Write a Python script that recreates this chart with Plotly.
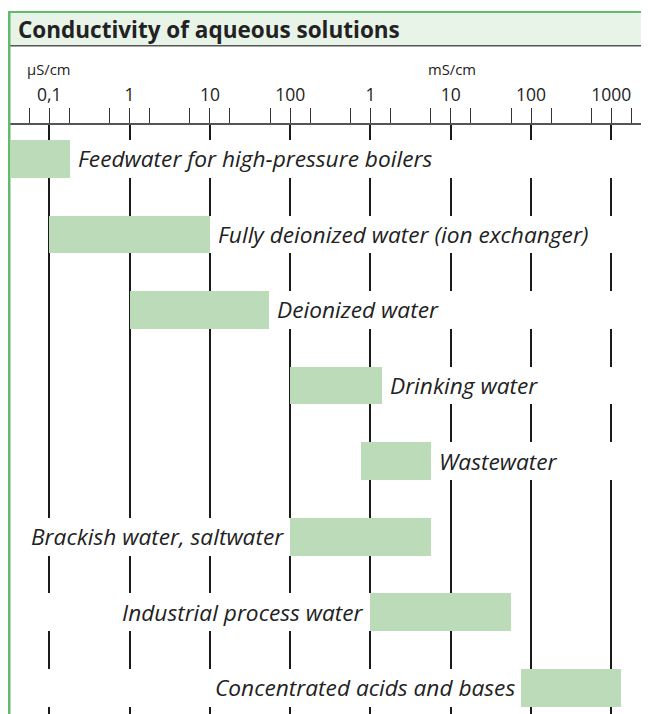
import numpy as np
import plotly.graph_objects as go

# ---- data (conductivity ranges in µS/cm) ----
categories = [
    "Feedwater for high-pressure boilers",
    "Fully deionized water (ion exchanger)",
    "Deionized water",
    "Drinking water",
    "Wastewater",
    "Brackish water, saltwater",
    "Industrial process water",
    "Concentrated acids and bases",
]
low_uScm = [0.033, 0.1, 1, 100, 770, 100, 1000, 74000]
high_uScm = [0.18, 10, 55, 1400, 5700, 5700, 57000, 1320000]
label_side = ["right", "right", "right", "right", "right", "left", "left", "left"]

tick_values = [0.1, 1, 10, 100, 1000, 1e4, 1e5, 1e6]
tick_labels = ["0,1", "1", "10", "100", "1", "10", "100", "1000"]

# ---- styling / layout constants ----
OFF = 8  # page body margin of the html page
PW, PH = 649, 714  # page (window) size
W, H = PW - OFF, PH - OFF
PLOT_LEFT, PLOT_TOP = 10, 125  # page px
ML, MR, MT, MB = PLOT_LEFT - OFF, 0, PLOT_TOP - OFF, 0
BAR_GREEN = "#bcdcb9"
FRAME_GREEN = "#62bb6a"
BAND_BG = "#e9f4e9"
TEXT = "#222222"
FONT = "Open Sans"
LABEL_SIZE = 22.7


def px2x(px):
    """page pixel x -> paper coordinate"""
    return (px - OFF - ML) / (W - ML - MR)


def py2y(py):
    """page pixel y -> paper coordinate"""
    return (H - MB - (py - OFF)) / (H - MT - MB)


MASK_LEFT, MASK_RIGHT = 1e-3, 1e8

fig = go.Figure()

# white masks hide the grid lines behind each bar + its label
mask_base, mask_len = [], []
for lo, hi, side in zip(low_uScm, high_uScm, label_side):
    if side == "right":
        mask_base.append(lo)
        mask_len.append(MASK_RIGHT - lo)
    else:
        mask_base.append(MASK_LEFT)
        mask_len.append(hi - MASK_LEFT)

fig.add_trace(go.Bar(
    y=categories, x=mask_len, base=mask_base, orientation="h", width=0.5,
    marker=dict(color="white", line=dict(width=0)), hoverinfo="skip", showlegend=False,
))

fig.add_trace(go.Bar(
    y=categories, x=[h - l for l, h in zip(low_uScm, high_uScm)], base=low_uScm,
    orientation="h", width=0.5,
    marker=dict(color=BAR_GREEN, line=dict(width=0)), showlegend=False,
))

annotations = []
for cat, lo, hi, side in zip(categories, low_uScm, high_uScm, label_side):
    if side == "right":
        annotations.append(dict(x=np.log10(hi), y=cat, xref="x", yref="y", text=cat,
                                xanchor="left", xshift=6, showarrow=False,
                                font=dict(family=FONT, size=LABEL_SIZE, color=TEXT,
                                          style="italic")))
    else:
        annotations.append(dict(x=np.log10(lo), y=cat, xref="x", yref="y", text=cat,
                                xanchor="right", xshift=-4, showarrow=False,
                                font=dict(family=FONT, size=LABEL_SIZE, color=TEXT,
                                          style="italic")))

# header texts
annotations.append(dict(x=px2x(16), y=py2y(29.5), xref="paper", yref="paper",
                        text="<b>Conductivity of aqueous solutions</b>", xanchor="left",
                        yanchor="middle", showarrow=False,
                        font=dict(family=FONT, size=22.5, color=TEXT)))
annotations.append(dict(x=px2x(25), y=py2y(69), xref="paper", yref="paper", text="µS/cm",
                        xanchor="left", yanchor="middle", showarrow=False,
                        font=dict(family=FONT, size=14.8, color=TEXT)))
annotations.append(dict(x=px2x(426), y=py2y(69), xref="paper", yref="paper", text="mS/cm",
                        xanchor="left", yanchor="middle", showarrow=False,
                        font=dict(family=FONT, size=14.8, color=TEXT)))

shapes = [
    # title band
    dict(type="rect", xref="paper", yref="paper", x0=px2x(10), x1=px2x(PW + 2),
         y0=py2y(45.5), y1=py2y(12), fillcolor=BAND_BG, line=dict(width=0), layer="above"),
    # line under title band
    dict(type="line", xref="paper", yref="paper", x0=px2x(10), x1=px2x(PW + 2),
         y0=py2y(45.8), y1=py2y(45.8), line=dict(color="#555555", width=1.6)),
    # green frame top
    dict(type="line", xref="paper", yref="paper", x0=px2x(7.5), x1=px2x(PW + 2),
         y0=py2y(12), y1=py2y(12), line=dict(color=FRAME_GREEN, width=2.2)),
    # green frame left
    dict(type="line", xref="paper", yref="paper", x0=px2x(9), x1=px2x(9),
         y0=py2y(11), y1=py2y(PH + 2), line=dict(color=FRAME_GREEN, width=3)),
]

minor_vals = []
for v in tick_values:
    minor_vals += [v * 10 ** -0.249, v * 10 ** 0.249]

x_lo = -1 - (49.3 - PLOT_LEFT) / 80.29
x_hi = -1 + (PW - 49.3) / 80.29

row_pitch = 75.57
y_top = -(158.85 - PLOT_TOP) / row_pitch
y_bot = 7 + (PH - 687.85) / row_pitch

fig.update_layout(
    width=W, height=H,
    margin=dict(l=ML, r=MR, t=MT, b=MB, pad=0),
    paper_bgcolor="white", plot_bgcolor="white",
    barmode="overlay", bargap=0,
    annotations=annotations, shapes=shapes,
    xaxis=dict(
        type="log", side="top", range=[x_lo, x_hi],
        tickmode="array", tickvals=tick_values, ticktext=tick_labels,
        ticks="outside", ticklen=15, tickwidth=1.3, tickcolor="#333333",
        tickfont=dict(family=FONT, size=17.5, color=TEXT),
        showline=True, linecolor="#555555", linewidth=2,
        showgrid=True, gridcolor="#1a1a1a", gridwidth=1.5,
        zeroline=False, fixedrange=True,
        minor=dict(tickmode="array", tickvals=minor_vals, ticks="outside", ticklen=15,
                   tickwidth=1.3, tickcolor="#333333", showgrid=False),
    ),
    yaxis=dict(
        type="category", categoryorder="array", categoryarray=categories,
        range=[y_bot, y_top], showticklabels=False, showgrid=False,
        zeroline=False, showline=False, ticks="", fixedrange=True,
    ),
)

fig.write_html("out.html")
